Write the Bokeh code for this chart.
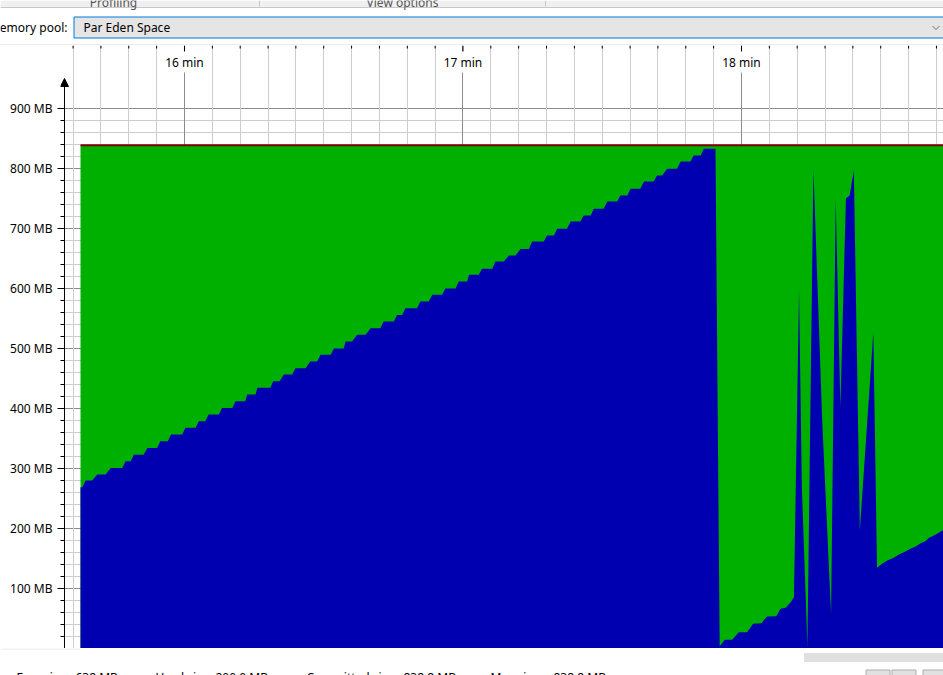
from bokeh.plotting import figure
from bokeh.models import Range1d, FixedTicker, Grid, Arrow, NormalHead, Label, PrintfTickFormatter
from bokeh.layouts import column
from bokeh.embed import file_html
from bokeh.resources import INLINE
from bokeh.core.properties import value

FONT = "Noto Sans"

# ---------------- data (time in elapsed seconds, memory in MB) ----------------
used_t = [
    937.6, 938.0, 938.7, 940.1, 941.2, 943.0, 944.1, 946.6, 947.3, 948.4,
    949.1, 951.2, 952.0, 954.1, 954.8, 956.4, 957.1, 959.5, 960.2, 962.4,
    963.1, 964.5, 965.2, 967.4, 968.1, 970.3, 971.0, 973.1, 973.5, 975.3,
    975.7, 978.5, 979.1, 980.5, 981.4, 983.2, 983.9, 986.1, 987.1, 988.6,
    989.3, 991.5, 992.2, 994.3, 994.7, 996.1, 997.2, 999.0, 1000.1, 1002.2,
    1002.9, 1005.1, 1005.8, 1006.9, 1007.6, 1010.1, 1010.8, 1012.6, 1013.4, 1015.5,
    1016.2, 1018.4, 1019.1, 1020.9, 1021.3, 1023.4, 1024.1, 1026.3, 1027.0, 1028.8,
    1029.9, 1031.3, 1032.4, 1034.2, 1034.9, 1037.4, 1038.1, 1039.6, 1040.3, 1042.4,
    1043.2, 1045.3, 1046.0, 1047.5, 1048.2, 1050.3, 1051.1, 1053.2, 1053.9, 1055.4,
    1056.1, 1058.2, 1059.0, 1061.1, 1061.8, 1062.9, 1064.0, 1066.1, 1066.9, 1069.0,
    1069.7, 1071.2, 1071.9, 1074.4,
    1075.3, 1076.4, 1078.0, 1079.4, 1081.2, 1082.5, 1084.3, 1085.5, 1087.5, 1088.4,
    1089.5, 1090.6, 1091.3, 1092.4, 1093.0, 1094.2, 1095.5, 1097.4, 1099.3, 1100.3,
    1101.3, 1102.5, 1103.3, 1104.2, 1105.5, 1108.4, 1109.2, 1110.3, 1111.4, 1112.8,
    1113.9, 1115.0, 1116.4, 1117.5, 1118.6, 1119.6, 1120.4, 1121.8, 1123.5,
]
used_mb = [
    268.9, 268.9, 280.0, 280.0, 290.0, 290.0, 301.0, 301.0, 312.0, 312.0,
    323.0, 323.0, 334.0, 334.0, 345.6, 345.6, 356.7, 356.7, 367.8, 367.8,
    378.9, 378.9, 390.0, 390.0, 401.0, 401.0, 412.0, 412.0, 423.3, 423.3,
    434.4, 434.4, 445.6, 445.6, 456.7, 456.7, 467.0, 467.0, 478.3, 478.3,
    489.4, 489.4, 500.0, 500.0, 511.7, 511.7, 522.8, 522.8, 533.9, 533.9,
    545.0, 545.0, 556.0, 556.0, 567.2, 567.2, 578.3, 578.3, 589.4, 589.4,
    600.0, 600.0, 611.7, 611.7, 622.8, 622.8, 633.0, 633.0, 645.0, 645.0,
    655.0, 655.0, 666.0, 666.0, 678.3, 678.3, 688.3, 688.3, 699.4, 699.4,
    711.7, 711.7, 721.7, 721.7, 732.8, 732.8, 745.0, 745.0, 755.0, 755.0,
    766.1, 766.1, 778.3, 778.3, 788.3, 788.3, 799.4, 799.4, 811.7, 811.7,
    821.7, 821.7, 832.8, 832.8,
    3.9, 14.4, 14.4, 27.2, 27.2, 41.1, 42.2, 53.3, 53.9, 66.1,
    67.8, 77.2, 85.6, 596.7, 270.0, 4.0, 798.0, 378.0, 58.0, 748.0,
    402.0, 750.0, 755.0, 797.0, 197.0, 527.0, 134.4, 141.1, 146.7, 151.1,
    156.7, 160.6, 166.1, 170.0, 175.6, 178.9, 184.4, 189.4, 197.8,
]
committed_t = [937.6, 1123.6]
committed_mb = [838.8, 838.8]
max_mb = [838.8, 838.8]

y_major = [100, 200, 300, 400, 500, 600, 700, 800, 900]
y_minor = [v for v in range(20, 900, 20) if v % 100 != 0]
x_major = [960, 1020, 1080]
x_labels = ["16 min", "17 min", "18 min"]
x_minor = [v for v in range(936, 1124, 6) if v % 60 != 0]

footer_labels = ["Free size:", "Used size:", "Committed size:", "Max size:"]
footer_values = ["638 MB", "200.0 MB", "838.8 MB", "838.8 MB"]

# view window (seconds / MB); frame spans pixels 60..943 horizontally
X0, X1 = 933.29, 1123.52
Y0, Y1 = 0, 1005
AXIS_X = 934.15        # time at which the vertical axis line is drawn
PX_PER_MB = 0.6

# ---------------- header ----------------
h = figure(width=943, height=45, x_range=Range1d(0, 943), y_range=Range1d(45, 0),
           output_backend="svg", toolbar_location=None, min_border=0,
           x_axis_location=None, y_axis_location=None, outline_line_color=None)
h.frame_align = False
h.grid.visible = False
h.quad(left=0, right=943, top=0, bottom=7, fill_color="#f0f0f0", line_color=None)
h.segment(x0=0, y0=7, x1=943, y1=7, line_color="#c8c8c8", line_width=1)
h.segment(x0=[259, 545], y0=[0, 0], x1=[259, 545], y1=[6, 6], line_color="#c8c8c8")
h.text(x=[113, 402], y=[1.5, 1.5], text=["Profiling", "View options"], text_align="center",
       text_baseline="alphabetic", text_font=value(FONT), text_font_size="12px", text_color="#555555")
h.quad(left=73.5, right=960, top=16.5, bottom=37.5, fill_color="#e5e5e5",
       line_color="#0078d7", line_width=1)
h.text(x=[67], y=[27], text=["Memory pool:"], text_align="right", text_baseline="middle",
       text_font=value(FONT), text_font_size="12px", text_color="#000000")
h.text(x=[83], y=[27], text=["Par Eden Space"], text_align="left", text_baseline="middle",
       text_font=value(FONT), text_font_size="12px", text_color="#000000")
h.line(x=[932, 935.5, 939], y=[25.5, 29, 25.5], line_color="#707070", line_width=1)
h.segment(x0=0, y0=44.5, x1=943, y1=44.5, line_color="#d9d9d9", line_width=1)

# ---------------- main chart ----------------
p = figure(width=943, height=603, x_range=Range1d(X0, X1), y_range=Range1d(Y0, Y1),
           output_backend="svg", toolbar_location=None,
           min_border_left=60, min_border_right=0, min_border_top=0, min_border_bottom=0,
           x_axis_location=None, y_axis_location="left", outline_line_color=None,
           background_fill_color="white", border_fill_color="white")
p.frame_align = False
p.xgrid.visible = False
p.ygrid.visible = False

yticker = FixedTicker(ticks=y_major, minor_ticks=y_minor)
xticker = FixedTicker(ticks=x_major, minor_ticks=x_minor)

p.add_layout(Grid(dimension=1, ticker=yticker, grid_line_color="#8c8c8c",
                  minor_grid_line_color="#cdcdcd"))
p.add_layout(Grid(dimension=0, ticker=xticker, grid_line_color="#8c8c8c",
                  minor_grid_line_color="#cdcdcd"))

ya = p.yaxis[0]
ya.ticker = yticker
ya.formatter = PrintfTickFormatter(format="%d MB")
ya.axis_line_color = None
ya.major_tick_in = 4
ya.major_tick_out = 3
ya.minor_tick_in = 4
ya.minor_tick_out = 0
ya.major_tick_line_color = "black"
ya.minor_tick_line_color = "black"
ya.major_label_standoff = 5
ya.major_label_text_font = FONT
ya.major_label_text_font_size = "12px"
ya.major_label_text_color = "#000000"

# time-axis tick marks hanging from the top edge
p.segment(x0=x_minor, y0=[Y1] * len(x_minor), x1=x_minor,
          y1=[Y1 - 3 / PX_PER_MB] * len(x_minor), line_color="black", line_width=1)
p.segment(x0=x_major, y0=[Y1] * len(x_major), x1=x_major,
          y1=[Y1 - 8 / PX_PER_MB] * len(x_major), line_color="black", line_width=1)

p.varea(x=committed_t, y1=0, y2=committed_mb, fill_color="#00b000")
p.varea(x=used_t, y1=0, y2=used_mb, fill_color="#0000b0")
p.line(x=committed_t, y=max_mb, line_color="#800000", line_width=2)

for xv, lab in zip(x_major, x_labels):
    p.add_layout(Label(x=xv, y=977.5, text=lab, text_align="center", text_baseline="middle",
                       text_font=FONT, text_font_size="12px", text_color="#000000",
                       background_fill_color="white", padding=2))

p.add_layout(Arrow(end=NormalHead(size=8, fill_color="black", line_color="black", line_width=1),
                   x_start=AXIS_X, y_start=0, x_end=AXIS_X, y_end=950,
                   line_color="black", line_width=1))

# ---------------- footer ----------------
f = figure(width=943, height=27, x_range=Range1d(0, 943), y_range=Range1d(27, 0),
           output_backend="svg", toolbar_location=None, min_border=0,
           x_axis_location=None, y_axis_location=None, outline_line_color=None)
f.frame_align = False
f.grid.visible = False
f.segment(x0=0, y0=0.5, x1=80, y1=0.5, line_color="#e6e6e6")
f.quad(left=803.5, right=950, top=4.5, bottom=13.5, fill_color="#e0e0e0", line_color=None)
f.text(x=[16, 155, 306, 490], y=[20] * 4, text=footer_labels, text_align="left",
       text_baseline="top", text_font=value(FONT), text_font_size="12px", text_color="#000000")
f.text(x=[75, 215, 403, 553], y=[20] * 4, text=footer_values, text_align="left",
       text_baseline="top", text_font=value(FONT), text_font_size="12px", text_color="#000000")
f.quad(left=[865.5, 891.5, 922.5], right=[889.5, 915.5, 950], top=[21.5] * 3, bottom=[35] * 3,
       fill_color="#e1e1e1", line_color="#adadad")

layout = column(h, p, f, spacing=0)
open("out.html", "w").write(file_html(layout, INLINE))
